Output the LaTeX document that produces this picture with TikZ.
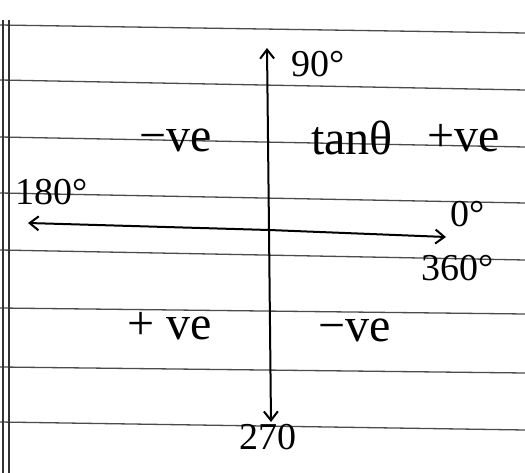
\documentclass[tikz,border=0pt]{standalone}
\usepackage{fontspec}
\setmainfont{Liberation Serif}
\usetikzlibrary{arrows.meta}
\begin{document}
\begin{tikzpicture}[x=1pt,y=-1pt,
  ruled/.style={draw=black!70,line width=1.3pt},
  margin/.style={draw=black!80,line width=1.4pt},
  axis/.style={draw=black,line width=2pt,-{Straight Barb[length=9pt,width=14pt,line width=2pt]}},
  hand/.style={inner sep=0pt,font=\fontsize{48}{52}\selectfont},
  handsmall/.style={inner sep=0pt,font=\fontsize{38}{42}\selectfont}]
\useasboundingbox[fill=white] (0,0) rectangle (525,473);
% notebook rules
\foreach \yl/\yr in {25/33,80/90,137/147,193/203,250/260,308/314,367/373,422/430}
  \draw[ruled] (0,\yl) -- (525,\yr);
\draw[margin] (3,20) -- (3,473);
\draw[margin] (9,20) -- (9,473);
% axes end points
\coordinate (top) at (267,48);
\coordinate (bot) at (271,422);
\coordinate (left) at (28,223);
\coordinate (right) at (446,237);
\coordinate (o) at (269,230);
\draw[axis] (o) -- (top);
\draw[axis] (o) -- (bot);
\draw[axis] (o) -- (left);
\draw[axis] (o) -- (right);
% labels
\node[handsmall] (n90) at (318,64) {90°};
\node[handsmall] (n180) at (52,192) {180°};
\node[handsmall] (n0) at (468,214) {0°};
\node[handsmall] (n360) at (458,268) {360°};
\node[handsmall] (n270) at (268,437) {270};
\node[hand] (q2) at (176,140) {−ve};
\node[hand] (tan) at (352,138) {tanθ};
\node[hand] (q1) at (464,138) {+ve};
\node[hand] (q3) at (170,326) {+ ve};
\node[hand] (q4) at (355,330) {−ve};
\end{tikzpicture}
\end{document}
